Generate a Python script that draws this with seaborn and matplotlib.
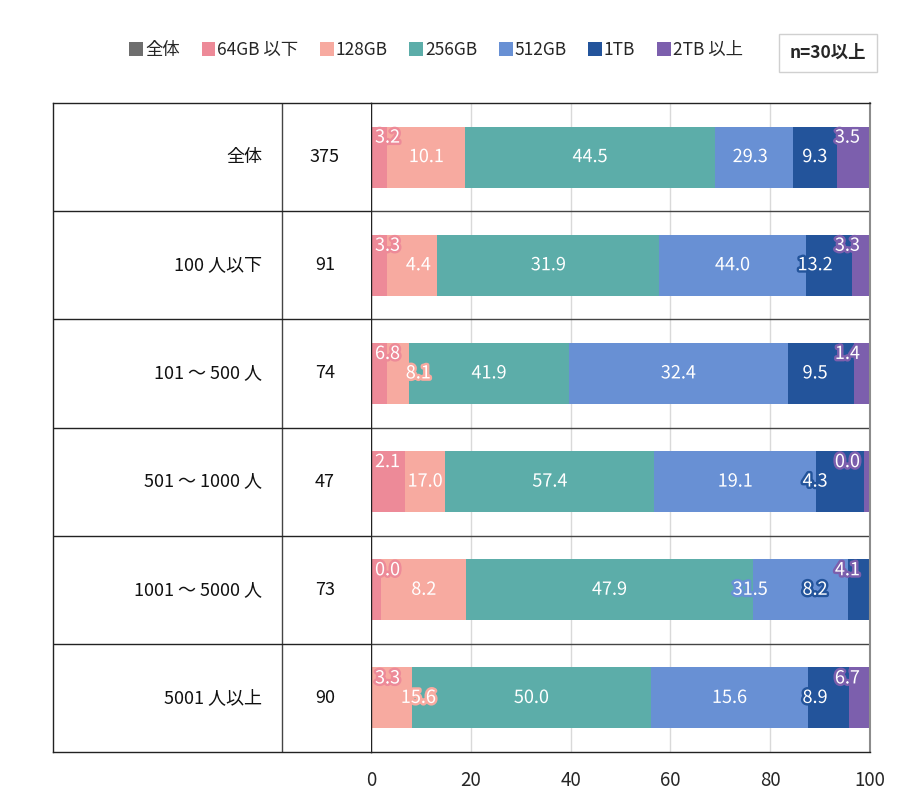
import numpy as np
import pandas as pd
import matplotlib
matplotlib.use('Agg')
import matplotlib.pyplot as plt
import matplotlib.patheffects as pe
from matplotlib.patches import Patch
import seaborn as sns

sns.set_style('white')
plt.rcParams['font.family'] = ['Noto Sans CJK JP', 'DejaVu Sans']

categories = ['全体', '100 人以下', '101 ～ 500 人', '501 ～ 1000 人', '1001 ～ 5000 人', '5001 人以上']
n_counts = [375, 91, 74, 47, 73, 90]
series = ['64GB 以下', '128GB', '256GB', '512GB', '1TB', '2TB 以上']
colors = ['#ED8A98', '#F7AAA0', '#5CADA9', '#6890D4', '#23549B', '#7C5FAD']

gb64 = [3.2, 3.3, 6.8, 2.1, 0.0, 3.3]
gb128 = [10.1, 4.4, 8.1, 17.0, 8.2, 15.6]
gb256 = [44.5, 31.9, 41.9, 57.4, 47.9, 50.0]
gb512 = [29.3, 44.0, 32.4, 19.1, 31.5, 15.6]
tb1 = [9.3, 13.2, 9.5, 4.3, 8.2, 8.9]
tb2 = [3.5, 3.3, 1.4, 0.0, 4.1, 6.7]

vals = np.array([gb64, gb128, gb256, gb512, tb1, tb2])   # series x rows
# in the source chart the bars sit one row below their labels (last row wraps to top)
drawn = np.roll(vals, 1, axis=1)
cum = drawn.cumsum(axis=0)

# label limits for middle labels (keep them clear of the corner labels)
lab_lo = [None, 9.5, None, None, None, None]
lab_hi = [None, None, None, 76, 89, None]

fig = plt.figure(figsize=(9, 8.02), dpi=100)
ax = fig.add_axes([371/900, 50/802, 499/900, 649/802])
tab = fig.add_axes([53/900, 50/802, 318/900, 649/802])

bar_w = 0.565
for i in reversed(range(len(series))):
    df = pd.DataFrame({'cat': categories, 'x': cum[i]})
    sns.barplot(data=df, x='x', y='cat', order=categories, orient='h', color=colors[i],
                saturation=1, width=bar_w, edgecolor='none', linewidth=0, ax=ax)

ax.set_xlim(0, 100)
ax.set_ylim(len(categories) - 0.5, -0.5)
ax.set_xticks([0, 20, 40, 60, 80, 100])
ax.set_yticks([])
ax.set_xlabel('')
ax.set_ylabel('')
ax.grid(axis='x', color='#d9d9d9', lw=1)
ax.set_axisbelow(True)
ax.tick_params(axis='x', length=0, pad=13, labelsize=13.5)
for s in ['top', 'bottom', 'left']:
    ax.spines[s].set_color('#222222')
    ax.spines[s].set_linewidth(1)
ax.spines['right'].set_color('#8c8c8c')
ax.spines['right'].set_linewidth(1.5)
for k in range(1, len(categories)):
    ax.axhline(k - 0.5, color='#444444', lw=1)

# value labels
for r in range(len(categories)):
    for i in range(len(series)):
        left = cum[i - 1, r] if i > 0 else 0.0
        right = cum[i, r]
        txt = f'{vals[i, r]:.1f}'
        eff = [pe.withStroke(linewidth=3.5, foreground=colors[i])]
        if i == 0:
            ax.text(0.8, r - 0.18, txt, ha='left', va='center', color='white',
                    fontsize=13, path_effects=eff)
        elif i == len(series) - 1:
            ax.text(98.0, r - 0.18, txt, ha='right', va='center', color='white',
                    fontsize=13, path_effects=eff)
        else:
            xc = (left + right) / 2
            if lab_lo[i] is not None:
                xc = max(xc, lab_lo[i])
            if lab_hi[i] is not None:
                xc = min(xc, lab_hi[i])
            ax.text(xc, r, txt, ha='center', va='center', color='white',
                    fontsize=13, path_effects=eff)

# table on the left
tab.set_xlim(0, 1)
tab.set_ylim(len(categories) - 0.5, -0.5)
tab.set_xticks([])
tab.set_yticks([])
for s in ['top', 'bottom', 'left']:
    tab.spines[s].set_color('#222222')
    tab.spines[s].set_linewidth(1)
tab.spines['right'].set_visible(False)
tab.axvline((282 - 53) / 318, color='#444444', lw=1)
for k in range(1, len(categories)):
    tab.axhline(k - 0.5, color='#222222', lw=1)
for r, (c, n) in enumerate(zip(categories, n_counts)):
    tab.text((262 - 53) / 318, r, c, ha='right', va='center', fontsize=13, color='#111111')
    tab.text((325 - 53) / 318, r, str(n), ha='center', va='center', fontsize=13, color='#111111')

# legend
handles = [Patch(facecolor='#6e6e6e', edgecolor='none')] + \
          [Patch(facecolor=c, edgecolor='none') for c in colors]
labels = ['全体'] + series
fig.legend(handles, labels, loc='center', bbox_to_anchor=(436/900, 1 - 50/802), ncol=7,
           frameon=False, handlelength=0.8, handleheight=0.8, handletextpad=0.1,
           columnspacing=1.25, fontsize=12.5)

fig.text(828/900, 1 - 53/802, 'n=30以上', ha='center', va='center', fontsize=12.5,
         fontweight='bold', bbox=dict(boxstyle='square,pad=0.6', fc='white', ec='#d0d0d0'))

fig.savefig('out.png', dpi=100)
plt.close()
